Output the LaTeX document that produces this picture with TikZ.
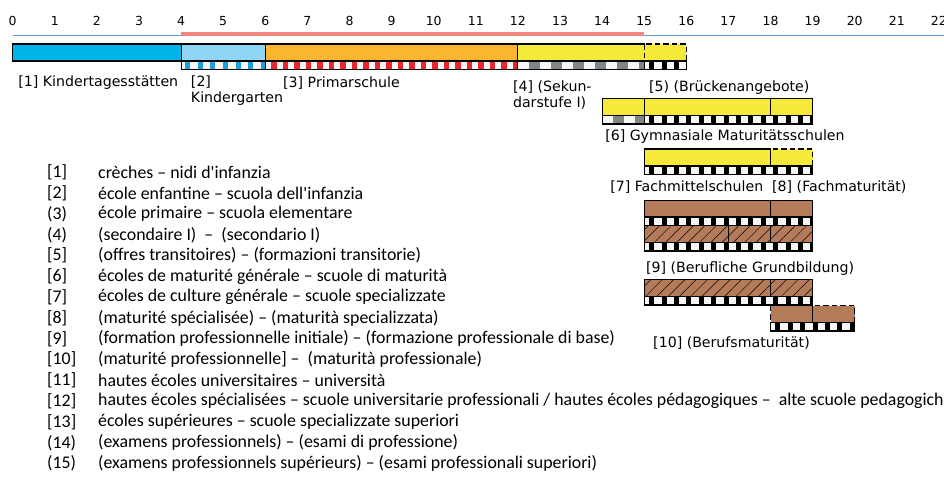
\documentclass[tikz,border=0pt]{standalone}
\usepackage{fontspec}
\usepackage{tikz}
\usetikzlibrary{positioning, patterns.meta}
\newfontfamily\verd{DejaVu Sans}
\newfontfamily\legf{Carlito}
\definecolor{chCyan}{HTML}{00B4EA}
\definecolor{chSky}{HTML}{8ED6F3}
\definecolor{chOrange}{HTML}{FBB52F}
\definecolor{chYellow}{HTML}{F5EA3A}
\definecolor{chBrown}{HTML}{B47B5B}
\definecolor{chPink}{HTML}{F4857E}
\definecolor{chAxis}{HTML}{5B9BD5}
\definecolor{chKgBlue}{HTML}{1EA0DC}
\definecolor{chRed}{HTML}{E8262C}
\definecolor{chGrey}{HTML}{80858A}
\definecolor{chPaper}{HTML}{F6F6F6}
\newcommand{\numfont}{\verd\fontsize{12.5}{15}\selectfont}
\newcommand{\lblfont}{\verd\fontsize{14.2}{16}\selectfont}
\newcommand{\legfont}{\legf\fontsize{17.9}{20}\selectfont}
% stripe row under a block: from, to, top, stripe style
\newcommand{\stripes}[4]{%
  \fill[chPaper] (#1,#3) rectangle (#2,#3+8.5);
  \draw[#4, line width=7.5bp] (#1,#3+4.25) -- (#2,#3+4.25);
  \draw[seg] (#1,#3) rectangle (#2,#3+8.5);}

\begin{document}
\begin{tikzpicture}[x=42.1bp, y=-1bp,
  seg/.style={draw=black, line width=1.1bp},
  dseg/.style={seg, dash pattern=on 5.5bp off 3bp},
  hatch/.style={seg, preaction={fill=chBrown}, pattern={Lines[angle=45,distance=8bp,line width=0.5bp]}, pattern color=black},
  kgS/.style={chKgBlue, dash pattern=on 5bp off 7.6bp, dash phase=8.5bp},
  psS/.style={chRed, dash pattern=on 5.3bp off 6.2bp, dash phase=5.5bp},
  sekS/.style={chGrey, dash pattern=on 11bp off 11bp, dash phase=11bp},
  bkS/.style={black, dash pattern=on 5bp off 7.4bp, dash phase=7.5bp},
  num/.style={font=\numfont, inner sep=0pt},
  lbl/.style={font=\lblfont, anchor=west, inner sep=0pt, align=left},
  key/.style={font=\legfont, anchor=west, inner sep=0pt}]
\useasboundingbox (-12.7bp,0bp) rectangle (931.3bp,-478bp);
\clip (-12.7bp,0bp) rectangle (931.3bp,-478bp);
% age scale
\foreach \n in {0,...,22}{\node[num] (n\n) at (\n,21) {\n};}
\draw[chAxis, line width=0.8bp] (0,35.5) -- (22.5,35.5);
\draw[chPink, line width=4bp] (4,34) -- (15,34);
% compulsory school row
\draw[seg, fill=chCyan] (0,44) rectangle (4,61);
\draw[seg, fill=chSky] (4,44) rectangle (6,61);
\draw[seg, fill=chOrange] (6,44) rectangle (12,61);
\draw[seg, fill=chYellow] (12,44) rectangle (15,61);
\draw[dseg, fill=chYellow] (15,44) rectangle (16,61);
\stripes{4}{6}{61}{kgS}
\stripes{6}{12}{61}{psS}
\stripes{12}{15}{61}{sekS}
\stripes{15}{16}{61}{bkS}
% gymnasium
\draw[seg, fill=chYellow] (14,98.5) rectangle (15,115.5);
\draw[seg, fill=chYellow] (15,98.5) rectangle (18,115.5);
\draw[seg, fill=chYellow] (18,98.5) rectangle (19,115.5);
\stripes{14}{15}{115.5}{sekS}
\stripes{15}{19}{115.5}{bkS}
% FMS
\draw[seg, fill=chYellow] (15,149) rectangle (18,166);
\draw[dseg, fill=chYellow] (18,149) rectangle (19,166);
\stripes{15}{19}{166}{bkS}
% vocational
\draw[seg, fill=chBrown] (15,200.5) rectangle (18,217);
\draw[seg, fill=chBrown] (18,200.5) rectangle (19,217);
\stripes{15}{19}{217}{bkS}
\draw[hatch] (15,225.5) rectangle (17,242.5);
\draw[hatch] (17,225.5) rectangle (18,242.5);
\draw[hatch] (18,225.5) rectangle (19,242.5);
\stripes{15}{19}{242.5}{bkS}
% vocational baccalaureate
\draw[hatch] (15,279.5) rectangle (18,296.5);
\draw[hatch] (18,279.5) rectangle (19,296.5);
\stripes{15}{19}{296.5}{bkS}
\draw[dseg, fill=chBrown] (18,305.5) rectangle (19,322.5);
\draw[dseg, fill=chBrown] (19,305.5) rectangle (20,322.5);
\stripes{18}{20}{322.5}{bkS}
% labels
\node[lbl] (l1) at (0.13,83) {[1] Kindertagesstätten};
\node[lbl] (l2) at (4.23,91) {[2]\\Kindergarten};
\node[lbl] (l3) at (6.42,83) {[3] Primarschule};
\node[lbl] (l4) at (11.88,95) {[4] (Sekun-\\darstufe I)};
\node[lbl] (l5) at (15.11,88) {[5) (Brückenangebote)};
\node[lbl] (l6) at (14.07,136.5) {[6] Gymnasiale Maturitätsschulen};
\node[lbl] (l7) at (14.19,187) {[7] Fachmittelschulen~ [8] (Fachmaturität)};
\node[lbl] (l9) at (15.04,268.3) {[9] (Berufliche Grundbildung)};
\node[lbl] (l10) at (15.21,343.3) {[10] (Berufsmaturität)};
% legend
\foreach \k/\t [count=\i] in {
  {[1]}/{crèches – nidi d\textquotesingle infanzia},
  {[2]}/{école enfantine – scuola dell\textquotesingle infanzia},
  {(3)}/{école primaire – scuola elementare},
  {(4)}/{(secondaire I)~ –~ (secondario I)},
  {[5]}/{(offres transitoires) – (formazioni transitorie)},
  {[6]}/{écoles de maturité générale – scuole di maturità},
  {[7]}/{écoles de culture générale – scuole specializzate},
  {[8]}/{(maturité spécialisée) – (maturità specializzata)},
  {[9]}/{(formation professionnelle initiale) – (formazione professionale di base)},
  {[10]}/{(maturité professionnelle] –~ (maturità professionale)},
  {[11]}/{hautes écoles universitaires – università},
  {[12]}/{hautes écoles spécialisées – scuole universitarie professionali / hautes écoles pédagogiques –~ alte scuole pedagogich},
  {[13]}/{écoles supérieures – scuole specializzate superiori},
  {(14)}/{(examens professionnels) – (esami di professione)},
  {(15)}/{(examens professionnels supérieurs) – (esami professionali superiori)}}{
  \node[key] (k\i) at (0.815,172.5+20.8*\i-20.8) {\k};
  \node[key] (t\i) at ([xshift=51bp]k\i.west) {\t};
}
\end{tikzpicture}
\end{document}
